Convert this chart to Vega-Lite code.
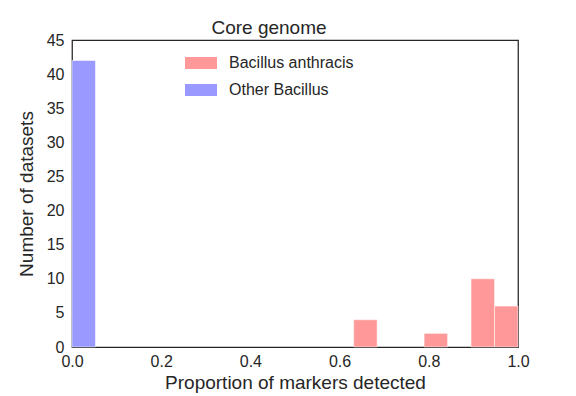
{
  "$schema": "https://vega.github.io/schema/vega-lite/v6.json",
  "width": 446,
  "height": 307,
  "autosize": "none",
  "padding": {"left": 72, "top": 40, "right": 58, "bottom": 49},
  "background": "white",
  "config": {
    "font": "Liberation Sans",
    "view": {"stroke": "#262626", "strokeWidth": 1.25},
    "axis": {"grid": false, "domain": false, "ticks": false, "labelFlush": false, "labelFontSize": 16, "titleFontSize": 19, "labelColor": "#262626", "titleColor": "#262626", "titleFontWeight": "normal", "labelFont": "Liberation Sans", "titleFont": "Liberation Sans"}
  },
  "title": {"text": "Core genome", "fontSize": 19, "fontWeight": "normal", "color": "#262626", "font": "Liberation Sans", "anchor": "middle", "dx": -26, "dy": 7, "offset": 1},
  "data": {
    "values": [
      {"series": "Bacillus anthracis", "start": 0.6316, "end": 0.6842, "count": 4},
      {"series": "Bacillus anthracis", "start": 0.7895, "end": 0.8421, "count": 2},
      {"series": "Bacillus anthracis", "start": 0.8947, "end": 0.9474, "count": 10},
      {"series": "Bacillus anthracis", "start": 0.9474, "end": 1.0, "count": 6},
      {"series": "Other Bacillus", "start": 0.0, "end": 0.0526, "count": 42}
    ]
  },
  "mark": {"type": "bar", "stroke": "white", "strokeWidth": 0.5, "opacity": 1},
  "encoding": {
    "x": {"field": "start", "type": "quantitative", "scale": {"domain": [0, 1], "nice": false, "zero": false}, "axis": {"values": [0, 0.2, 0.4, 0.6, 0.8, 1.0], "format": ".1f", "labelPadding": 6, "title": "Proportion of markers detected", "titlePadding": 4}},
    "x2": {"field": "end"},
    "y": {"field": "count", "type": "quantitative", "scale": {"domain": [0, 45], "nice": false}, "axis": {"values": [0, 5, 10, 15, 20, 25, 30, 35, 40, 45], "labelPadding": 8, "title": "Number of datasets", "titlePadding": 10}},
    "y2": {"datum": 0},
    "color": {
      "field": "series", "type": "nominal",
      "scale": {"domain": ["Bacillus anthracis", "Other Bacillus"], "range": ["#ff9999", "#9999ff"]},
      "legend": {"title": null, "orient": "none", "legendX": 121, "legendY": 15, "symbolType": "M-2,-0.75H2V0.75H-2Z", "symbolSize": 256, "symbolStrokeWidth": 0, "symbolOpacity": 1, "labelFontSize": 16, "labelColor": "#262626", "labelOffset": 20, "rowPadding": 11, "labelFont": "Liberation Sans"}
    }
  }
}
